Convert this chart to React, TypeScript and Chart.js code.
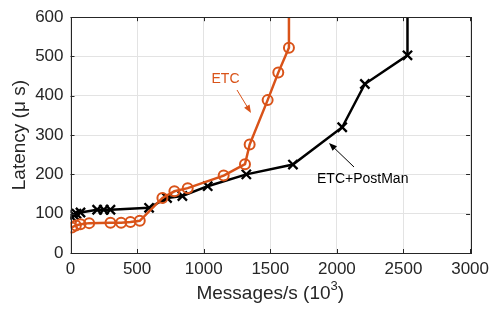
import React, { useEffect, useRef } from "react";
import { Chart, registerables } from "chart.js";

Chart.register(...registerables);

// ---- data ----
const etcX = [10, 40, 75, 140, 300, 380, 450, 520, 690, 780, 880, 1150, 1310, 1345, 1480, 1560, 1640, 1640];
const etcY = [65, 70, 73, 76, 77, 77, 79, 82, 140, 157, 165, 197, 226, 276, 389, 459, 522, 700];
const pmX = [8, 25, 45, 75, 200, 250, 300, 590, 725, 840, 1030, 1320, 1670, 2040, 2210, 2530, 2530];
const pmY = [92, 97, 100, 103, 110, 110, 110, 115, 140, 145, 170, 200, 225, 320, 430, 503, 700];
const xTicks = [0, 500, 1000, 1500, 2000, 2500, 3000];
const yTicks = [0, 100, 200, 300, 400, 500, 600];
const etcLabel = "ETC";
const pmLabel = "ETC+PostMan";
const xTitle = "Messages/s (10";
const xTitleSup = "3";
const yTitle = "Latency (\u03bc s)";

const ORANGE = "#D95319";
const AXIS = "#262626";
const FONT = "'Liberation Sans', Arial, sans-serif";

function arrow(ctx: CanvasRenderingContext2D, x1: number, y1: number, x2: number, y2: number, color: string) {
  const ang = Math.atan2(y2 - y1, x2 - x1);
  const hl = 8, hw = 3.2;
  ctx.save();
  ctx.strokeStyle = color;
  ctx.fillStyle = color;
  ctx.lineWidth = 1;
  ctx.beginPath();
  ctx.moveTo(x1, y1);
  ctx.lineTo(x2 - Math.cos(ang) * hl * 0.8, y2 - Math.sin(ang) * hl * 0.8);
  ctx.stroke();
  const bx = x2 - Math.cos(ang) * hl, by = y2 - Math.sin(ang) * hl;
  ctx.beginPath();
  ctx.moveTo(x2, y2);
  ctx.lineTo(bx + Math.sin(ang) * hw, by - Math.cos(ang) * hw);
  ctx.lineTo(bx - Math.sin(ang) * hw, by + Math.cos(ang) * hw);
  ctx.closePath();
  ctx.fill();
  ctx.restore();
}

const decor = {
  id: "decor",
  afterDraw(chart: any) {
    const ctx: CanvasRenderingContext2D = chart.ctx;
    const { left, right, top, bottom } = chart.chartArea;
    const xs = chart.scales.x, ys = chart.scales.y;
    ctx.save();
    // box
    ctx.strokeStyle = AXIS;
    ctx.lineWidth = 1;
    ctx.strokeRect(Math.round(left) + 0.5, Math.round(top) + 0.5, Math.round(right - left), Math.round(bottom - top));
    // inward ticks
    const tl = 4;
    ctx.beginPath();
    xTicks.forEach((v) => {
      const px = Math.round(xs.getPixelForValue(v)) + 0.5;
      ctx.moveTo(px, bottom); ctx.lineTo(px, bottom - tl);
      ctx.moveTo(px, top); ctx.lineTo(px, top + tl);
    });
    yTicks.forEach((v) => {
      const py = Math.round(ys.getPixelForValue(v)) + 0.5;
      ctx.moveTo(left, py); ctx.lineTo(left + tl, py);
      ctx.moveTo(right, py); ctx.lineTo(right - tl, py);
    });
    ctx.stroke();

    // axis titles
    ctx.fillStyle = AXIS;
    ctx.font = `19px ${FONT}`;
    ctx.textBaseline = "middle";
    const mainW = ctx.measureText(xTitle).width;
    ctx.font = `13px ${FONT}`;
    const supW = ctx.measureText(xTitleSup).width;
    ctx.font = `19px ${FONT}`;
    const closeW = ctx.measureText(")").width;
    const total = mainW + supW + closeW;
    const cx = (left + right) / 2;
    let sx = cx - total / 2;
    const ty = 294;
    ctx.textAlign = "left";
    ctx.fillText(xTitle, sx, ty);
    ctx.font = `13px ${FONT}`;
    ctx.fillText(xTitleSup, sx + mainW, ty - 8);
    ctx.font = `19px ${FONT}`;
    ctx.fillText(")", sx + mainW + supW, ty);

    ctx.save();
    ctx.translate(20, (top + bottom) / 2);
    ctx.rotate(-Math.PI / 2);
    ctx.textAlign = "center";
    ctx.fillText(yTitle, 0, 0);
    ctx.restore();

    // annotations
    ctx.font = `14px ${FONT}`;
    ctx.textAlign = "center";
    ctx.fillStyle = ORANGE;
    ctx.fillText(etcLabel, 225.5, 79.5);
    arrow(ctx, 237, 90, 251, 113, ORANGE);
    ctx.fillStyle = "#000";
    ctx.textAlign = "left";
    ctx.fillText(pmLabel, 317, 179.5);
    arrow(ctx, 354, 167, 329, 143, "#000");
    ctx.restore();
  },
};

export default function App() {
  const ref = useRef<HTMLCanvasElement>(null);
  useEffect(() => {
    const etcData = etcX.map((x, i) => ({ x, y: etcY[i] }));
    const pmData = pmX.map((x, i) => ({ x, y: pmY[i] }));
    const chart = new Chart(ref.current!, {
      type: "line",
      data: {
        datasets: [
          {
            label: etcLabel,
            data: etcData,
            borderColor: ORANGE,
            backgroundColor: "rgba(0,0,0,0)",
            borderWidth: 2.5,
            pointStyle: "circle",
            pointRadius: etcData.map((_, i) => (i === etcData.length - 1 ? 0 : 5)),
            pointBorderWidth: 2,
            pointBorderColor: ORANGE,
            pointBackgroundColor: "rgba(0,0,0,0)",
            tension: 0,
          },
          {
            label: pmLabel,
            data: pmData,
            borderColor: "#000",
            backgroundColor: "rgba(0,0,0,0)",
            borderWidth: 2.5,
            pointStyle: "crossRot",
            pointRadius: pmData.map((_, i) => (i === pmData.length - 1 ? 0 : 6.5)),
            pointBorderWidth: 2.3,
            pointBorderColor: "#000",
            tension: 0,
          },
        ],
      },
      options: {
        responsive: false,
        animation: false,
        devicePixelRatio: 1,
        layout: { padding: { top: 12, right: 23, left: 0, bottom: 0 } },
        plugins: { legend: { display: false }, tooltip: { enabled: false } },
        scales: {
          x: {
            type: "linear",
            min: 0,
            max: 3000,
            afterFit: (s: any) => { s.height = 58; },
            afterBuildTicks: (s: any) => { s.ticks = xTicks.map((v) => ({ value: v })); },
            grid: { color: "#e3e3e3", drawTicks: false },
            border: { display: false },
            ticks: { font: { size: 17, family: FONT }, color: AXIS, padding: 6, maxRotation: 0, callback: (v: any) => String(v) },
          },
          y: {
            type: "linear",
            min: 0,
            max: 600,
            afterFit: (s: any) => { s.width = 70.5; },
            afterBuildTicks: (s: any) => { s.ticks = yTicks.map((v) => ({ value: v })); },
            grid: { color: "#e3e3e3", drawTicks: false },
            border: { display: false },
            ticks: { font: { size: 17, family: FONT }, color: AXIS, padding: 7, callback: (v: any) => String(v) },
          },
        },
      },
      plugins: [decor],
    });
    return () => chart.destroy();
  }, []);
  return (
    <div style={{ position: "absolute", left: 0, top: 0, width: 495, height: 311, background: "#fff" }}>
      <canvas ref={ref} width={495} height={311} style={{ display: "block" }} />
    </div>
  );
}
